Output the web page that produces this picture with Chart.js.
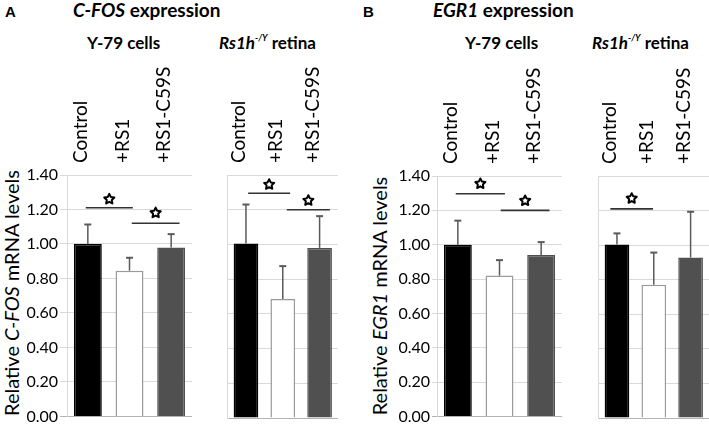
<!DOCTYPE html>
<html>
<head>
<meta charset="utf-8">
<script src="https://cdn.jsdelivr.net/npm/chart.js@4.4.0/dist/chart.umd.min.js"></script>
<style>
  body { margin: 0; background: #fff; }
  #wrap { position: relative; width: 709px; height: 425px; overflow: hidden; font-family: Lato, "Open Sans", sans-serif; color: #000; }
  canvas { position: absolute; }
  .txt { position: absolute; white-space: nowrap; font-weight: bold; }
  .ytitle { position: absolute; white-space: nowrap; font-size: 20px; line-height: 20px; transform: translate(-50%, -50%) rotate(-90deg); }
  sup { font-size: 9px; vertical-align: 8px; font-style: italic; }
</style>
</head>
<body>
<div id="wrap">
  <div class="txt" style="left:5px;top:3px;font:bold 15px 'Liberation Sans'">A</div>
  <div class="txt" style="left:73px;top:-2px;font-size:19px"><i>C-FOS</i> expression</div>
  <div class="txt" style="left:87px;top:32px;font-size:17px">Y-79 cells</div>
  <div class="txt" style="left:219px;top:32px;font-size:17px"><i>Rs1h</i><sup>-/Y</sup> retina</div>
  <div class="ytitle" style="left:11px;top:293px">Relative <i>C-FOS</i> mRNA levels</div>

  <div class="txt" style="left:363px;top:3px;font:bold 15px 'Liberation Sans'">B</div>
  <div class="txt" style="left:433px;top:-2px;font-size:19px"><i>EGR1</i> expression</div>
  <div class="txt" style="left:465px;top:32px;font-size:17px">Y-79 cells</div>
  <div class="txt" style="left:592px;top:32px;font-size:17px"><i>Rs1h</i><sup>-/Y</sup> retina</div>
  <div class="ytitle" style="left:379px;top:296px">Relative <i>EGR1</i> mRNA levels</div>

  <canvas id="fosY79"></canvas>
  <canvas id="fosRs1h"></canvas>
  <canvas id="egrY79"></canvas>
  <canvas id="egrRs1h"></canvas>
</div>
<script>
const categories = ['Control', '+RS1', '+RS1-C59S'];
const yTicks = [0, 0.2, 0.4, 0.6, 0.8, 1.0, 1.2, 1.4];

// C-FOS
const fosY79 = [1.00, 0.845, 0.98];
const fosY79Err = [0.113, 0.075, 0.077];
const fosRs1h = [1.005, 0.685, 0.98];
const fosRs1hErr = [0.225, 0.19, 0.183];

// EGR1
const egrY79 = [1.00, 0.82, 0.94];
const egrY79Err = [0.14, 0.09, 0.075];
const egrRs1h = [1.003, 0.771, 0.928];
const egrRs1hErr = [0.065, 0.186, 0.265];

// significance brackets: from/to in category units, line level and star level in data units
const fosY79Sig = [{ from: -0.05, to: 1.08, y: 1.21, star: 1.26 }, { from: 1.055, to: 2.2, y: 1.12, star: 1.18 }];
const fosRs1hSig = [{ from: 0.06, to: 1.2, y: 1.295, star: 1.345 }, { from: 1.11, to: 2.28, y: 1.20, star: 1.253 }];
const egrY79Sig = [{ from: -0.05, to: 1.13, y: 1.297, star: 1.355 }, { from: 1.03, to: 2.2, y: 1.20, star: 1.256 }];
const egrRs1hSig = [{ from: -0.18, to: 0.98, y: 1.21, star: 1.27 }];

const barColors = ['#000000', '#ffffff', '#505050'];
const barBorders = ['#000000', '#9a9a9a', '#505050'];

function drawStar(ctx, cx, cy, r) {
  ctx.beginPath();
  for (let i = 0; i < 10; i++) {
    const rad = i % 2 === 0 ? r : r * 0.5;
    const a = -Math.PI / 2 + i * Math.PI / 5;
    const px = cx + rad * Math.cos(a), py = cy + rad * Math.sin(a);
    if (i === 0) ctx.moveTo(px, py); else ctx.lineTo(px, py);
  }
  ctx.closePath();
  ctx.fillStyle = '#fff';
  ctx.fill();
  ctx.strokeStyle = '#000';
  ctx.lineWidth = 2;
  ctx.lineJoin = 'round';
  ctx.stroke();
}

const extrasPlugin = {
  id: 'extras',
  afterDatasetsDraw(chart) {
    const { ctx, scales: { x, y } } = chart;
    const errs = chart.options.plugins.extras.errs;
    const sig = chart.options.plugins.extras.sig;
    const meta = chart.getDatasetMeta(0);
    ctx.save();
    // error bars
    ctx.strokeStyle = '#5a5a5a';
    meta.data.forEach((bar, i) => {
      const v = chart.data.datasets[0].data[i];
      const top = y.getPixelForValue(v + errs[i]);
      ctx.lineWidth = 1.5;
      ctx.beginPath();
      ctx.moveTo(bar.x, bar.y);
      ctx.lineTo(bar.x, top);
      ctx.stroke();
      ctx.lineWidth = 2;
      ctx.beginPath();
      ctx.moveTo(bar.x - 3.5, top);
      ctx.lineTo(bar.x + 3.5, top);
      ctx.stroke();
    });
    // brackets
    sig.forEach(s => {
      const x1 = x.getPixelForValue(s.from), x2 = x.getPixelForValue(s.to);
      const ly = y.getPixelForValue(s.y);
      ctx.strokeStyle = '#333';
      ctx.lineWidth = 1.6;
      ctx.beginPath();
      ctx.moveTo(x1, ly);
      ctx.lineTo(x2, ly);
      ctx.stroke();
      drawStar(ctx, (x1 + x2) / 2, y.getPixelForValue(s.star), 5.3);
    });
    ctx.restore();
  }
};

function makeChart(id, box, values, errs, sig, showY) {
  const el = document.getElementById(id);
  el.style.left = box.left + 'px';
  el.style.top = box.top + 'px';
  el.width = box.w;
  el.height = box.h;
  el.style.width = box.w + 'px';
  el.style.height = box.h + 'px';
  return new Chart(el, {
    type: 'bar',
    data: {
      labels: categories,
      datasets: [{
        data: values,
        backgroundColor: barColors,
        borderColor: barBorders,
        borderWidth: 1.5,
        categoryPercentage: 1,
        barPercentage: 0.67
      }]
    },
    options: {
      responsive: false,
      animation: false,
      layout: { padding: { left: 0, right: 0, top: 0, bottom: 10 } },
      plugins: {
        legend: { display: false },
        tooltip: { enabled: false },
        extras: { errs: errs, sig: sig }
      },
      scales: {
        x: {
          position: 'top',
          grid: { display: false, drawTicks: false },
          border: { display: false },
          ticks: {
            autoSkip: false,
            minRotation: 90,
            maxRotation: 90,
            padding: 12,
            labelOffset: 16,
            color: '#000',
            font: { family: 'Lato', size: 19 }
          },
          afterFit: s => { s.height = box.xh; }
        },
        y: {
          min: 0,
          max: 1.4,
          afterBuildTicks: s => { s.ticks = yTicks.map(v => ({ value: v })); },
          grid: {
            color: c => (c.tick && c.tick.value === 0 ? '#b4b4b4' : '#d9d9d9'),
            lineWidth: 1,
            drawTicks: showY,
            tickLength: box.tl || 7
          },
          border: { display: true, color: '#d9d9d9', width: 1 },
          ticks: {
            display: showY,
            padding: 2,
            color: '#000',
            font: { family: 'Lato', size: 16 },
            callback: v => v.toFixed(2)
          },
          afterFit: s => { s.width = box.yw; }
        }
      }
    },
    plugins: [extrasPlugin]
  });
}

makeChart('fosY79', { left: 25, top: 60, w: 167, h: 368, yw: 42, xh: 115, tl: 7 }, fosY79, fosY79Err, fosY79Sig, true);
makeChart('fosRs1h', { left: 211, top: 60, w: 127, h: 368, yw: 1, xh: 115 }, fosRs1h, fosRs1hErr, fosRs1hSig, false);
makeChart('egrY79', { left: 390, top: 60, w: 172, h: 368, yw: 47, xh: 116, tl: 5 }, egrY79, egrY79Err, egrY79Sig, true);
makeChart('egrRs1h', { left: 582, top: 60, w: 127, h: 368, yw: 1, xh: 116 }, egrRs1h, egrRs1hErr, egrRs1hSig, false);
</script>
</body>
</html>
